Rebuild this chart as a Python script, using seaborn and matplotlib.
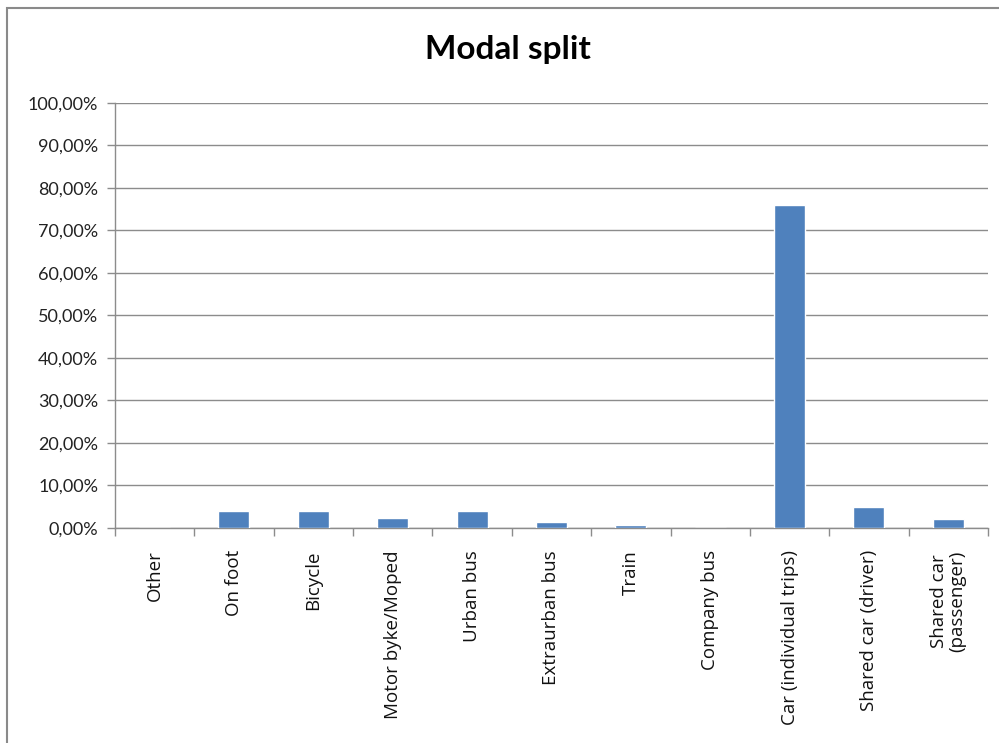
import matplotlib
matplotlib.use("Agg")
import matplotlib.pyplot as plt
import matplotlib.patches as mpatches
from matplotlib.ticker import FixedLocator
import seaborn as sns
import pandas as pd
import numpy as np

# Share of trips by transport mode (percent)
modes = [
    "Other", "On foot", "Bicycle", "Motor byke/Moped", "Urban bus",
    "Extraurban bus", "Train", "Company bus", "Car (individual trips)",
    "Shared car (driver)", "Shared car\n(passenger)",
]
shares = [0.0, 4.1, 4.1, 2.3, 3.9, 1.4, 0.6, 0.0, 75.9, 4.9, 2.0]
y_ticks = list(range(0, 101, 10))

df = pd.DataFrame({"mode": modes, "share": shares})

sns.set_theme(style="white")
plt.rcParams["font.family"] = ["Open Sans", "DejaVu Sans"]

fig = plt.figure(figsize=(9.99, 7.43), dpi=100)
ax = fig.add_axes([0.115, 0.2894, 0.874, 0.572])

sns.barplot(data=df, x="mode", y="share", color="#4F81BD", width=0.39,
            saturation=1, ax=ax, zorder=3)

ax.set_xlim(-0.5, len(modes) - 0.5)
ax.set_ylim(0, 100)
ax.yaxis.set_major_locator(FixedLocator(y_ticks))
ax.set_yticklabels([f"{v:.2f}%".replace(".", ",") for v in y_ticks],
                   fontfamily="Lato", fontsize=13, color="#222222")
ax.grid(axis="y", color="#8c8c8c", linewidth=1.0, zorder=0)
ax.set_xlabel("")
ax.set_ylabel("")

# Category labels rotated, ticks drawn on the category boundaries
ax.set_xticks(range(len(modes)))
ax.set_xticklabels(modes, rotation=90, fontsize=13.5, color="#111111",
                   va="top", ha="center", linespacing=1.0)
ax.tick_params(axis="x", which="major", length=0, pad=16)
ax.set_xticks(np.arange(-0.5, len(modes), 1.0), minor=True)
ax.tick_params(axis="x", which="minor", length=6, color="#8c8c8c", width=1,
               direction="out", bottom=True)
ax.tick_params(axis="y", length=6, color="#8c8c8c", width=1, left=True,
               direction="out", pad=6)

for side in ("top", "right"):
    ax.spines[side].set_visible(False)
for side in ("left", "bottom"):
    ax.spines[side].set_color("#8c8c8c")
    ax.spines[side].set_linewidth(1.0)

fig.text(0.508, 0.934, "Modal split", ha="center", va="center",
         fontsize=24, fontweight="bold", fontfamily="Lato", color="black")

# Chart area border
fig.patches.append(mpatches.Rectangle((7 / 999, -0.02), 1.1, 1 - 8 / 743 + 0.02,
                                      transform=fig.transFigure, fill=False,
                                      edgecolor="#8a8a8a", linewidth=1.5))

fig.savefig("out.png", dpi=100)
